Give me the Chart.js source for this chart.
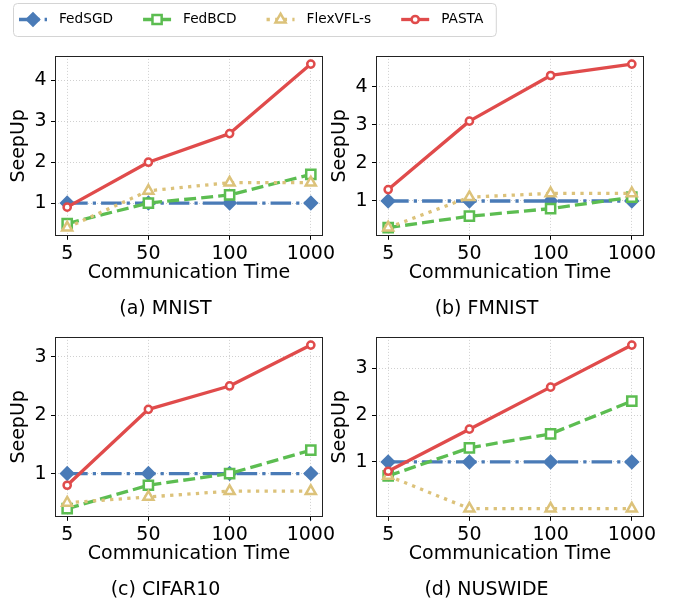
<!DOCTYPE html>
<html>
<head>
<meta charset="utf-8">
<script src="https://cdn.jsdelivr.net/npm/chart.js@4.4.0/dist/chart.umd.min.js"></script>
<style>
  body { margin: 0; background: #fff; width: 681px; height: 601px; position: relative; overflow: hidden; }
  canvas { position: absolute; }
</style>
</head>
<body>
<canvas id="leg" width="681" height="40" style="left:0;top:0"></canvas>
<canvas id="mnist" width="340" height="282" style="left:0;top:40px"></canvas>
<canvas id="fmnist" width="340" height="282" style="left:321px;top:40px"></canvas>
<canvas id="cifar" width="340" height="282" style="left:0;top:321px"></canvas>
<canvas id="nuswide" width="340" height="282" style="left:321px;top:321px"></canvas>
<script>
(function () {
  'use strict'

// data
var times = ['5', '50', '100', '1000']
var methods = ['FedSGD', 'FedBCD', 'FlexVFL-s', 'PASTA']

var mnistSGD = [1, 1, 1, 1]
var mnistBCD = [0.5, 1.0, 1.2, 1.7]
var mnistFlex = [0.4, 1.3, 1.5, 1.5]
var mnistPasta = [0.9, 2.0, 2.7, 4.4]

var fmnistSGD = [1, 1, 1, 1]
var fmnistBCD = [0.3, 0.6, 0.8, 1.1]
var fmnistFlex = [0.3, 1.1, 1.2, 1.2]
var fmnistPasta = [1.3, 3.1, 4.3, 4.6]

var cifarSGD = [1, 1, 1, 1]
var cifarBCD = [0.4, 0.8, 1.0, 1.4]
var cifarFlex = [0.5, 0.6, 0.7, 0.7]
var cifarPasta = [0.8, 2.1, 2.5, 3.2]

var nusSGD = [1, 1, 1, 1]
var nusBCD = [0.7, 1.3, 1.6, 2.3]
var nusFlex = [0.7, 0.0, 0.0, 0.0]
var nusPasta = [0.8, 1.7, 2.6, 3.5]

var ticksTop = [1, 2, 3, 4]
var ticksBottom = [1, 2, 3]

Chart.defaults.font.family = "'DejaVu Sans', sans-serif"
Chart.defaults.color = '#000'

// look of each method
var styles = [
  { color: '#4a7bb7', dash: [20.5, 5.1, 3.2, 5.1], point: 'rectRot', r: 6, fill: true },
  { color: '#5cbd51', dash: [12, 5.1], point: 'rect', r: 6.5, fill: false },
  { color: '#dcc27a', dash: [3.3, 5.3], point: 'triangle', r: 5.8, fill: false },
  { color: '#e04b4b', dash: [], point: 'circle', r: 3.6, fill: false }
]

function dataset(k, vals) {
  var s = styles[k]
  return {
    label: methods[k],
    data: vals.map(function (v, i) { return { x: i, y: v } }),
    borderColor: s.color,
    backgroundColor: s.color,
    borderWidth: 3.3,
    borderDash: s.dash,
    borderJoinStyle: 'round',
    pointStyle: s.point,
    pointRadius: s.r,
    pointBorderWidth: 2.5,
    pointBorderColor: s.color,
    pointBackgroundColor: s.fill ? s.color : '#fff',
    order: 3 - k,
    clip: false
  }
}

var frame = {
  id: 'frame',
  afterDatasetsDraw: function (chart) {
    var a = chart.chartArea, ctx = chart.ctx
    ctx.save()
    ctx.strokeStyle = '#222'
    ctx.lineWidth = 1
    ctx.strokeRect(Math.round(a.left) + 0.5, Math.round(a.top) + 0.5,
      Math.round(a.right - a.left) - 1, Math.round(a.bottom - a.top) - 1)
    ctx.restore()
  }
}

function subplot(id, caption, series, yTicks) {
  var all = [].concat.apply([], series)
  var lo = Math.min.apply(null, all)
  var hi = Math.max.apply(null, all)
  var m = (hi - lo) * 0.05

  new Chart(document.getElementById(id), {
    type: 'line',
    data: { datasets: series.map(function (vals, k) { return dataset(k, vals) }) },
    options: {
      responsive: false,
      animation: false,
      events: [],
      layout: { padding: { left: 8, right: 17, top: 8, bottom: 1.6 } },
      plugins: {
        legend: { display: false },
        tooltip: { enabled: false },
        title: {
          display: true, text: caption, position: 'bottom',
          font: { size: 19, weight: 'normal' }, color: '#000',
          padding: { top: 12.8, bottom: 0 }
        }
      },
      scales: {
        x: {
          type: 'linear', min: -0.15, max: 3.15,
          afterBuildTicks: function (s) { s.ticks = times.map(function (t, i) { return { value: i } }) },
          afterFit: function (s) { s.height = 49 },
          ticks: {
            callback: function (v, i) { return times[i] },
            font: { size: 19 }, color: '#000', padding: 2.5, maxRotation: 0, autoSkip: false
          },
          grid: { color: '#c4c4c4', lineWidth: 0.8, tickColor: '#000', tickLength: 4, tickWidth: 1 },
          border: { display: false, dash: [1, 2] },
          title: { display: true, text: 'Communication Time', font: { size: 19 }, color: '#000', padding: 0 }
        },
        y: {
          type: 'linear', min: lo - m, max: hi + m,
          afterBuildTicks: function (s) { s.ticks = yTicks.map(function (v) { return { value: v } }) },
          afterFit: function (s) { s.width = 47 },
          ticks: { font: { size: 19 }, color: '#000', padding: 4.5 },
          grid: { color: '#c4c4c4', lineWidth: 0.8, tickColor: '#000', tickLength: 4, tickWidth: 1 },
          border: { display: false, dash: [1, 2] },
          title: { display: true, text: 'SeepUp', font: { size: 19 }, color: '#000', padding: 0 }
        }
      }
    },
    plugins: [frame]
  })
}

subplot('mnist', '(a) MNIST', [mnistSGD, mnistBCD, mnistFlex, mnistPasta], ticksTop)
subplot('fmnist', '(b) FMNIST', [fmnistSGD, fmnistBCD, fmnistFlex, fmnistPasta], ticksTop)
subplot('cifar', '(c) CIFAR10', [cifarSGD, cifarBCD, cifarFlex, cifarPasta], ticksBottom)
subplot('nuswide', '(d) NUSWIDE', [nusSGD, nusBCD, nusFlex, nusPasta], ticksBottom)

// shared legend across the top
var legendBox = {
  id: 'legendBox',
  afterDraw: function (chart) {
    var ctx = chart.ctx
    ctx.save()
    ctx.font = "13.7px 'DejaVu Sans', sans-serif"
    ctx.textAlign = 'left'
    ctx.textBaseline = 'middle'
    var x = 19, y = 19.5, right
    var items = chart.data.datasets.map(function (ds) {
      var it = { ds: ds, x: x }
      x += 40 + ctx.measureText(ds.label).width
      right = x
      x += 30
      return it
    })
    // box
    ctx.beginPath()
    ctx.roundRect(13.5, 3.5, right + 13 - 13.5, 33, 4)
    ctx.fillStyle = '#fff'
    ctx.fill()
    ctx.strokeStyle = '#d4d4d4'
    ctx.lineWidth = 1
    ctx.stroke()
    items.forEach(function (it) {
      var ds = it.ds
      ctx.save()
      ctx.strokeStyle = ds.borderColor
      ctx.lineWidth = ds.borderWidth
      ctx.setLineDash(ds.borderDash)
      ctx.beginPath()
      ctx.moveTo(it.x, y)
      ctx.lineTo(it.x + 28, y)
      ctx.stroke()
      ctx.setLineDash([])
      ctx.fillStyle = ds.pointBackgroundColor
      ctx.strokeStyle = ds.pointBorderColor
      ctx.lineWidth = ds.pointBorderWidth
      Chart.helpers.drawPoint(ctx, { pointStyle: ds.pointStyle, radius: ds.pointRadius, borderWidth: ds.pointBorderWidth, rotation: 0 }, it.x + 14, y)
      ctx.restore()
      ctx.fillStyle = '#000'
      ctx.fillText(ds.label, it.x + 40, y + 0.3)
    })
    ctx.restore()
  }
}

new Chart(document.getElementById('leg'), {
  type: 'line',
  data: { datasets: methods.map(function (m, k) { return dataset(k, []) }) },
  options: {
    responsive: false,
    animation: false,
    events: [],
    scales: { x: { display: false }, y: { display: false } },
    plugins: { legend: { display: false }, tooltip: { enabled: false } }
  },
  plugins: [legendBox]
})

})()
</script>
</body>
</html>
